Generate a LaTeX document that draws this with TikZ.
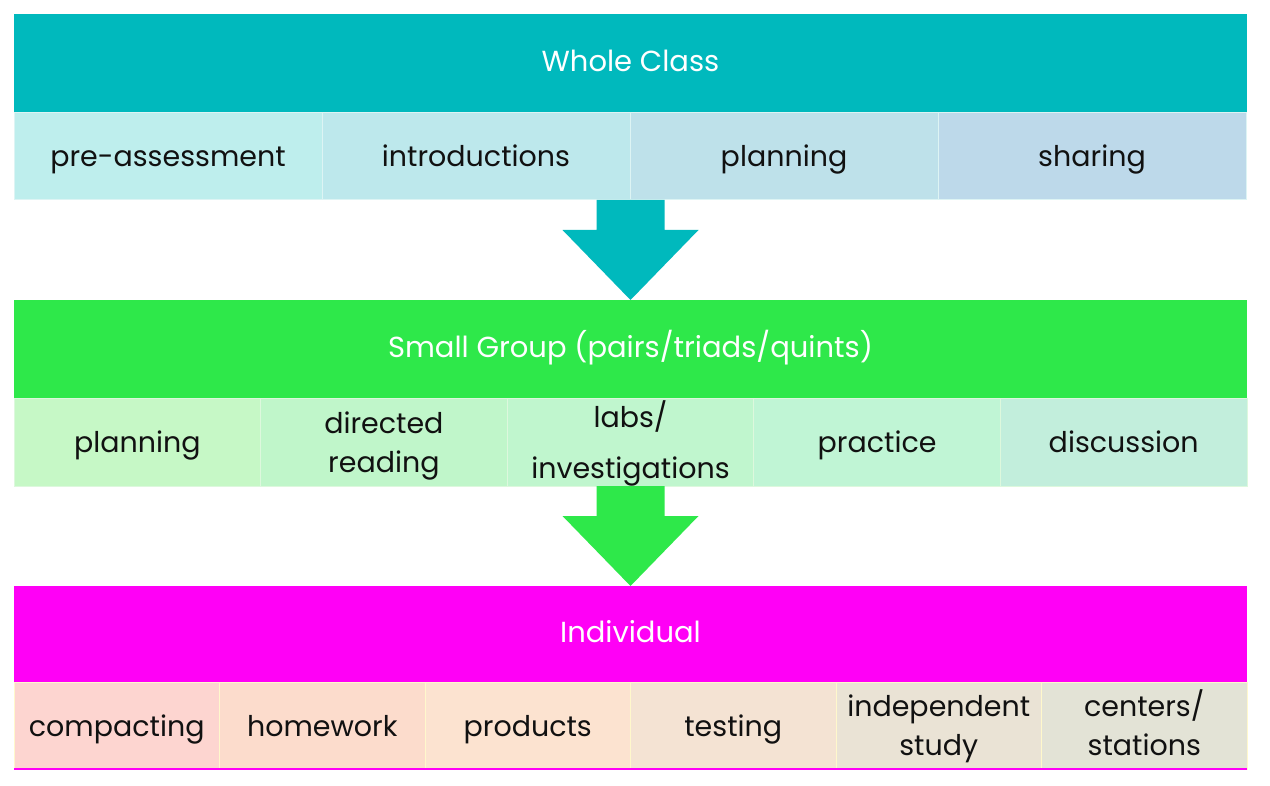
\documentclass[tikz,border=0pt]{standalone}
\usepackage{fontspec}
\setmainfont{Poppins}
\usetikzlibrary{calc}
\definecolor{tealH}{HTML}{00B9BD}
\definecolor{greenH}{HTML}{2EE84A}
\definecolor{magH}{HTML}{FF00F6}
\definecolor{ca}{HTML}{BEEEED}
\definecolor{cb}{HTML}{BDE8EC}
\definecolor{cc}{HTML}{BEE1EA}
\definecolor{cd}{HTML}{BDD9EA}
\definecolor{ga}{HTML}{C6F8C6}
\definecolor{gb}{HTML}{C0F6CA}
\definecolor{gc}{HTML}{C0F6CE}
\definecolor{gd}{HTML}{C0F5D5}
\definecolor{ge}{HTML}{C2EEDC}
\definecolor{ma}{HTML}{FDD5D0}
\definecolor{mb}{HTML}{FCDCCC}
\definecolor{mc}{HTML}{FCE3D0}
\definecolor{md}{HTML}{F4E3D3}
\definecolor{me}{HTML}{EAE3D5}
\definecolor{mf}{HTML}{E3E3D6}
\definecolor{edgeA}{HTML}{DDF4F4}
\definecolor{edgeB}{HTML}{DDF8DD}
\definecolor{edgeC}{HTML}{FFF8CC}
\definecolor{ink}{HTML}{111111}
\begin{document}
\begin{tikzpicture}[x=1pt,y={(0pt,-1pt)}]
\tikzset{
  hdr/.style={minimum height=99pt, minimum width=1233pt, inner sep=0pt, outer sep=0pt, text=white,
    font=\fontsize{29}{34}\selectfont, text height=22pt, text depth=6pt, anchor=north west},
  cell/.style={line width=1pt, inner sep=0pt, outer sep=0pt, minimum height=87pt,
    anchor=north west, text=ink, font=\fontsize{28.5}{39}\selectfont, align=center,
    text height=27pt, text depth=6pt},
  two/.style={text height=66pt},
  twowide/.style={text height=78pt},
  rowA/.style={cell, draw=edgeA, minimum width=308pt},
  rowB/.style={cell, draw=edgeB, minimum width=246.6pt},
  rowC/.style={cell, draw=edgeC, minimum width=205.5pt},
}
\useasboundingbox (0,0) rectangle (1270,786);
\fill[white] (0,0) rectangle (1270,786);
% Whole class
\node[hdr, fill=tealH] (h1) at (14,14) {Whole Class};
\node[rowA, fill=ca] (a1) at (14,113) {pre-assessment};
\node[rowA, fill=cb] (a2) at (a1.north east) {introductions};
\node[rowA, fill=cc] (a3) at (a2.north east) {planning};
\node[rowA, fill=cd] (a4) at (a3.north east) {sharing};
% Small group
\node[hdr, fill=greenH] (h2) at (14,300) {Small Group (pairs/triads/quints)};
\node[rowB, fill=ga] (b1) at (14,399) {planning};
\node[rowB, two, fill=gb] (b2) at (b1.north east) {directed\\reading};
\node[rowB, twowide, fill=gc] (b3) at (b2.north east) {labs/\\[12pt]investigations};
\node[rowB, fill=gd] (b4) at (b3.north east) {practice};
\node[rowB, fill=ge] (b5) at (b4.north east) {discussion};
% Individual
\node[hdr, fill=magH, minimum height=96pt] (h3) at (14,586) {Individual};
\node[rowC, fill=ma] (c1) at (14,682) {compacting};
\node[rowC, fill=mb] (c2) at (c1.north east) {homework};
\node[rowC, fill=mc] (c3) at (c2.north east) {products};
\node[rowC, fill=md] (c4) at (c3.north east) {testing};
\node[rowC, two, fill=me] (c5) at (c4.north east) {independent\\study};
\node[rowC, two, fill=mf] (c6) at (c5.north east) {centers/\\stations};
\draw[magH, line width=1.5pt] (c1.south west) -- (c6.south east);
% arrows
\coordinate (t1) at (h2.north);
\coordinate (s1) at (t1 |- a1.south);
\fill[tealH] ($(s1)+(-34,0)$) -- ($(s1)+(34,0)$) -- ($(s1)+(34,30)$) -- ($(s1)+(68,30)$)
  -- (t1) -- ($(s1)+(-68,30)$) -- ($(s1)+(-34,30)$) -- cycle;
\coordinate (t2) at (h3.north);
\coordinate (s2) at (t2 |- b1.south);
\fill[greenH] ($(s2)+(-34,0)$) -- ($(s2)+(34,0)$) -- ($(s2)+(34,30)$) -- ($(s2)+(68,30)$)
  -- (t2) -- ($(s2)+(-68,30)$) -- ($(s2)+(-34,30)$) -- cycle;
\end{tikzpicture}
\end{document}
